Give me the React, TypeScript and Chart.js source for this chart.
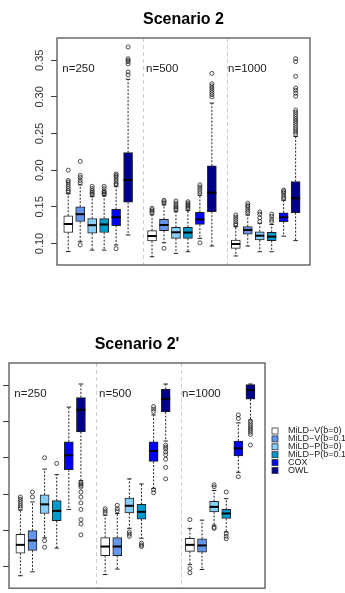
import { useEffect, useRef } from 'react';
import { Chart, registerables } from 'chart.js';

Chart.register(...registerables);

// ---------- categories ----------
const METHODS = ['MiLD−V(b=0)', 'MiLD−V(b=0.1)', 'MiLD−P(b=0)', 'MiLD−P(b=0.1)', 'COX', 'OWL'];
const COLORS = ['#FFFFFF', '#6495ED', '#87CEFA', '#009ACD', '#0000FF', '#00008B'];
const SAMPLE_SIZES = ['n=250', 'n=500', 'n=1000'];
const Y_TICKS = [0.1, 0.15, 0.2, 0.25, 0.3, 0.35];
const Y_TICK_LABELS = ['0.10', '0.15', '0.20', '0.25', '0.30', '0.35'];

// ---------- Scenario 2 (18 boxes: 3 sample sizes x 6 methods) ----------
const S2_LOW = [0.089, 0.1025, 0.091, 0.091, 0.098, 0.1116, 0.082, 0.101, 0.0866, 0.0888, 0.107, 0.0966, 0.083, 0.0966, 0.0888, 0.0888, 0.11, 0.104];
const S2_Q1 = [0.115, 0.13, 0.114, 0.115, 0.1245, 0.1563, 0.1034, 0.1175, 0.107, 0.107, 0.126, 0.1435, 0.0934, 0.1126, 0.1048, 0.104, 0.1298, 0.142];
const S2_MED = [0.1266, 0.14, 0.125, 0.126, 0.1358, 0.1868, 0.1102, 0.1253, 0.1153, 0.115, 0.133, 0.1694, 0.0993, 0.1184, 0.1107, 0.1093, 0.1358, 0.1617];
const S2_Q3 = [0.1376, 0.15, 0.134, 0.134, 0.1467, 0.224, 0.1175, 0.133, 0.122, 0.122, 0.1426, 0.2059, 0.1048, 0.123, 0.116, 0.1153, 0.142, 0.1845];
const S2_HIGH = [0.168, 0.18, 0.164, 0.165, 0.178, 0.324, 0.139, 0.1526, 0.1434, 0.145, 0.166, 0.2915, 0.123, 0.139, 0.1276, 0.126, 0.159, 0.246];
const S2_OUT = [
  [0.17, 0.172, 0.175, 0.178, 0.181, 0.184, 0.186, 0.2],
  [0.098, 0.183, 0.186, 0.19, 0.193, 0.212],
  [0.166, 0.168, 0.17, 0.172, 0.175, 0.178],
  [0.167, 0.168, 0.17, 0.171, 0.175, 0.178],
  [0.093, 0.18, 0.182, 0.185, 0.188, 0.191, 0.193, 0.195],
  [0.33, 0.334, 0.345, 0.348, 0.35, 0.352, 0.368],
  [0.142, 0.144, 0.146, 0.148],
  [0.0934, 0.155, 0.157, 0.159],
  [0.146, 0.148, 0.15, 0.152, 0.155, 0.158],
  [0.147, 0.149, 0.151, 0.153, 0.155, 0.157],
  [0.101, 0.168, 0.171, 0.174, 0.177, 0.18],
  [0.3, 0.303, 0.306, 0.309, 0.312, 0.315, 0.318, 0.332],
  [0.125, 0.127, 0.13, 0.133, 0.136, 0.139],
  [0.141, 0.144, 0.147, 0.15, 0.152, 0.155],
  [0.13, 0.135, 0.14, 0.143],
  [0.13, 0.133, 0.137, 0.14],
  [0.161, 0.163, 0.166, 0.169, 0.171, 0.173],
  [0.249, 0.252, 0.255, 0.258, 0.261, 0.264, 0.267, 0.27, 0.273, 0.276, 0.279, 0.282, 0.301, 0.305, 0.309, 0.312, 0.328, 0.348, 0.352],
];

// ---------- Scenario 2' ----------
const S2P_LOW = [0.0878, 0.0932, 0.14, 0.1258, 0.179, 0.2186, 0.0895, 0.097, 0.153, 0.1394, 0.208, 0.273, 0.103, 0.0964, 0.1575, 0.148, 0.23, 0.302];
const S2P_Q1 = [0.119, 0.1227, 0.1734, 0.1634, 0.2336, 0.2857, 0.1154, 0.1154, 0.1743, 0.1657, 0.245, 0.3129, 0.1213, 0.1204, 0.1757, 0.1666, 0.2526, 0.3306];
const S2P_MED = [0.1303, 0.1363, 0.186, 0.177, 0.2535, 0.316, 0.128, 0.128, 0.184, 0.1757, 0.2594, 0.331, 0.1303, 0.1295, 0.1825, 0.1734, 0.263, 0.343];
const S2P_Q3 = [0.1448, 0.1499, 0.1992, 0.191, 0.272, 0.3328, 0.1403, 0.1403, 0.1947, 0.186, 0.272, 0.344, 0.1394, 0.1385, 0.19, 0.179, 0.273, 0.3505];
const S2P_HIGH = [0.178, 0.1893, 0.2345, 0.2268, 0.3197, 0.3514, 0.171, 0.1734, 0.221, 0.214, 0.309, 0.3514, 0.153, 0.1643, 0.205, 0.1938, 0.298, 0.3514];
const S2P_OUT = [
  [0.181, 0.184, 0.187, 0.19, 0.193, 0.196],
  [0.196, 0.2029],
  [0.136, 0.127, 0.25],
  [0.2422],
  [],
  [0.216, 0.214, 0.212, 0.2097, 0.2029, 0.196, 0.188, 0.179, 0.165, 0.159, 0.144],
  [0.174, 0.177, 0.18],
  [0.177, 0.18, 0.1847],
  [0.148, 0.145, 0.142],
  [0.1326, 0.13, 0.128],
  [0.206, 0.202, 0.3137, 0.317, 0.3205],
  [0.2675, 0.2645, 0.262, 0.258, 0.254, 0.248, 0.2368, 0.221],
  [0.0977, 0.0918, 0.165],
  [],
  [0.1543, 0.153, 0.21, 0.2128],
  [0.146, 0.142, 0.1385, 0.2029],
  [0.224, 0.304, 0.309],
  [0.3, 0.297, 0.294, 0.291, 0.288, 0.285, 0.282, 0.2675],
];

// axis layout constants (data units)
const X_MIN = 0.06;
const X_MAX = 21.2;
const Y_MIN = 0.0707;
const Y_MAX = 0.3803;
const SEPARATOR_X = [7.25, 14.25];
const N_LABEL_X = [0.5, 7.5, 14.35];

const FONT = '"Liberation Sans", Arial, Helvetica, sans-serif';

const boxPos = (i: number) => Math.floor(i / 6) * 7 + (i % 6) + 1;

type Panel = {
  title: string;
  low: number[];
  q1: number[];
  med: number[];
  q3: number[];
  high: number[];
  out: number[][];
  legend: boolean;
  pad: { left: number; top: number; right: number; bottom: number };
};

function makeChart(canvas: HTMLCanvasElement, p: Panel) {
  const n = p.q1.length;
  const idx = Array.from({ length: n }, (_, i) => i);
  const boxes = idx.map((i) => ({ x: boxPos(i), y: [p.q1[i], p.q3[i]] }));
  const outliers: { x: number; y: number }[] = [];
  idx.forEach((i) => p.out[i].forEach((v) => outliers.push({ x: boxPos(i), y: v })));

  const decor = {
    id: 'decor',
    beforeDatasetsDraw(chart: any) {
      const { ctx, chartArea: a, scales } = chart;
      ctx.save();
      ctx.strokeStyle = '#cccccc';
      ctx.lineWidth = 1;
      ctx.setLineDash([4, 3]);
      SEPARATOR_X.forEach((sx) => {
        const px = Math.round(scales.x.getPixelForValue(sx)) + 0.5;
        ctx.beginPath();
        ctx.moveTo(px, a.top);
        ctx.lineTo(px, a.bottom);
        ctx.stroke();
      });
      ctx.restore();
    },
    afterDatasetsDraw(chart: any) {
      const { ctx, scales } = chart;
      const x = scales.x;
      const y = scales.y;
      const half = 4.5;
      ctx.save();
      for (let i = 0; i < n; i++) {
        const cx = x.getPixelForValue(boxPos(i));
        const pl = y.getPixelForValue(p.low[i]);
        const pq1 = y.getPixelForValue(p.q1[i]);
        const pm = y.getPixelForValue(p.med[i]);
        const pq3 = y.getPixelForValue(p.q3[i]);
        const ph = y.getPixelForValue(p.high[i]);
        // whiskers
        ctx.strokeStyle = '#222';
        ctx.lineWidth = 1;
        ctx.setLineDash([2, 1.6]);
        ctx.beginPath();
        ctx.moveTo(cx, pq3);
        ctx.lineTo(cx, ph);
        ctx.moveTo(cx, pq1);
        ctx.lineTo(cx, pl);
        ctx.stroke();
        ctx.setLineDash([]);
        // caps
        ctx.beginPath();
        ctx.moveTo(cx - 2.25, ph);
        ctx.lineTo(cx + 2.25, ph);
        ctx.moveTo(cx - 2.25, pl);
        ctx.lineTo(cx + 2.25, pl);
        ctx.stroke();
        // median
        ctx.strokeStyle = '#000';
        ctx.lineWidth = 2;
        ctx.beginPath();
        ctx.moveTo(cx - half, pm);
        ctx.lineTo(cx + half, pm);
        ctx.stroke();
      }
      ctx.restore();
    },
    afterDraw(chart: any) {
      const { ctx, chartArea: a, scales } = chart;
      ctx.save();
      // frame
      ctx.strokeStyle = '#555';
      ctx.lineWidth = 1.3;
      ctx.strokeRect(a.left, a.top, a.right - a.left, a.bottom - a.top);
      // title
      ctx.fillStyle = '#000';
      ctx.font = `bold 16px ${FONT}`;
      ctx.textAlign = 'center';
      ctx.textBaseline = 'alphabetic';
      ctx.fillText(p.title, (a.left + a.right) / 2, a.top - 14);
      // group labels
      ctx.fillStyle = '#222';
      ctx.font = `11.5px ${FONT}`;
      ctx.textAlign = 'left';
      ctx.textBaseline = 'middle';
      SAMPLE_SIZES.forEach((s, g) => {
        ctx.fillText(s, scales.x.getPixelForValue(N_LABEL_X[g]), a.top + 31);
      });
      // rotated y tick labels
      ctx.fillStyle = '#333';
      ctx.font = `11px ${FONT}`;
      ctx.textAlign = 'center';
      Y_TICKS.forEach((v, k) => {
        const py = scales.y.getPixelForValue(v);
        ctx.save();
        ctx.translate(a.left - 17, py);
        ctx.rotate(-Math.PI / 2);
        ctx.fillText(Y_TICK_LABELS[k], 0, 0);
        ctx.restore();
      });
      // legend
      if (p.legend) {
        ctx.font = `9px ${FONT}`;
        ctx.textAlign = 'left';
        ctx.textBaseline = 'middle';
        METHODS.forEach((m, k) => {
          const ly = a.top + 68 + k * 7.9;
          ctx.fillStyle = COLORS[k];
          ctx.fillRect(a.right + 7, ly - 3, 6, 6);
          ctx.strokeStyle = '#333';
          ctx.lineWidth = 0.8;
          ctx.strokeRect(a.right + 7, ly - 3, 6, 6);
          ctx.fillStyle = '#222';
          ctx.fillText(m, a.right + 23, ly);
        });
      }
      ctx.restore();
    },
  };

  return new Chart(canvas, {
    type: 'bar',
    data: {
      datasets: [
        {
          type: 'bar',
          data: boxes as any,
          backgroundColor: idx.map((i) => COLORS[i % 6]),
          borderColor: '#222',
          borderWidth: 1,
          borderSkipped: false,
          barThickness: 9,
        } as any,
        {
          type: 'scatter',
          data: outliers,
          pointRadius: 2,
          pointBorderWidth: 0.8,
          pointBackgroundColor: 'rgba(0,0,0,0)',
          pointBorderColor: '#222',
          showLine: false,
        } as any,
      ],
    },
    options: {
      responsive: false,
      animation: false,
      devicePixelRatio: 1,
      layout: { padding: p.pad },
      plugins: { legend: { display: false }, title: { display: false }, tooltip: { enabled: false } },
      events: [],
      scales: {
        x: {
          type: 'linear',
          min: X_MIN,
          max: X_MAX,
          offset: false,
          display: false,
        },
        y: {
          type: 'linear',
          min: Y_MIN,
          max: Y_MAX,
          afterBuildTicks: (s: any) => {
            s.ticks = Y_TICKS.map((v) => ({ value: v }));
          },
          afterFit: (s: any) => {
            s.width = p.pad.left === 0 ? s.width : s.width;
          },
          ticks: { display: false },
          border: { display: false },
          grid: { drawOnChartArea: false, drawTicks: true, tickLength: 6, color: '#444', lineWidth: 1 },
        },
      },
    } as any,
    plugins: [decor],
  });
}

export default function App() {
  const topRef = useRef<HTMLCanvasElement>(null);
  const botRef = useRef<HTMLCanvasElement>(null);

  useEffect(() => {
    const c1 = makeChart(topRef.current!, {
      title: 'Scenario 2',
      low: S2_LOW,
      q1: S2_Q1,
      med: S2_MED,
      q3: S2_Q3,
      high: S2_HIGH,
      out: S2_OUT,
      legend: false,
      pad: { left: 51, top: 38, right: 35, bottom: 35 },
    });
    const c2 = makeChart(botRef.current!, {
      title: "Scenario 2'",
      low: S2P_LOW,
      q1: S2P_Q1,
      med: S2P_MED,
      q3: S2P_Q3,
      high: S2P_HIGH,
      out: S2P_OUT,
      legend: true,
      pad: { left: 3, top: 63, right: 80, bottom: 3 },
    });
    return () => {
      c1.destroy();
      c2.destroy();
    };
  }, []);

  return (
    <div style={{ position: 'absolute', left: 0, top: 0, width: 345, height: 593, background: '#fff', overflow: 'hidden' }}>
      <canvas ref={topRef} width={345} height={300} style={{ position: 'absolute', left: 0, top: 0, display: 'block' }} />
      <canvas ref={botRef} width={345} height={293} style={{ position: 'absolute', left: 0, top: 300, display: 'block' }} />
    </div>
  );
}
